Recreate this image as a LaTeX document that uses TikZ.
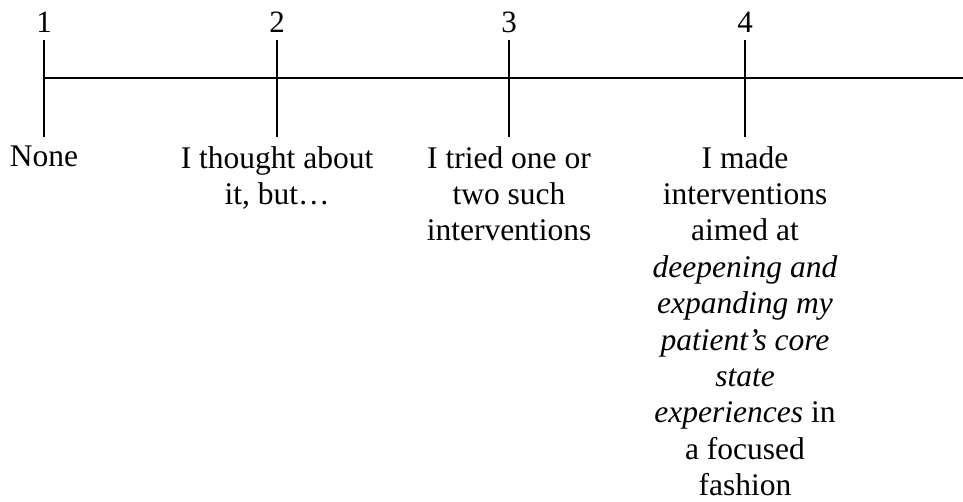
\documentclass[tikz,border=0pt]{standalone}
\usepackage{fontspec}
\setmainfont{Liberation Serif}
\begin{document}
\begin{tikzpicture}[x=1pt,y=1pt,
  axis/.style={line width=2.2pt},
  num/.style={anchor=base,inner sep=0pt,font=\fontsize{31}{36}\selectfont},
  lab/.style={anchor=north,inner sep=0pt,align=center,font=\fontsize{31.5}{36.4}\selectfont}]
\useasboundingbox (0,0) rectangle (963,-502);
\coordinate (s) at (44,-78);
\coordinate (e) at (963,-78);
\draw[axis] (s) -- (e);
\foreach \i/\x in {1/44,2/277,3/509,4/745}{
  \coordinate (t\i) at (\x,-40);
  \coordinate (b\i) at (\x,-137);
  \draw[axis] (t\i) -- (b\i);
  \node[num] (n\i) at (\x,-33) {\i};
}
\node[lab] (l1) at (44,-146) {None};
\node[lab] (l2) at (277,-146) {I thought about\\it, but…};
\node[lab] (l3) at (509,-146) {I tried one or\\two such\\interventions};
\node[lab] (l4) at (745,-146) {I made\\interventions\\aimed at\\\textit{deepening and}\\\textit{expanding my}\\\textit{patient’s core}\\\textit{state}\\\textit{experiences} in\\a focused\\fashion};
\end{tikzpicture}
\end{document}
